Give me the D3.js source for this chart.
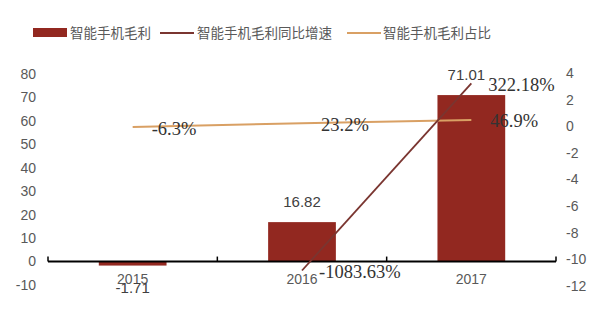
<!DOCTYPE html>
<html>
<head>
<meta charset="utf-8"/>
<script src="https://d3js.org/d3.v7.min.js"></script>
<style>
  body { margin: 0; background: #fff; }
</style>
</head>
<body>
<div id="chart"></div>
<script>
// data
var years = ["2015", "2016", "2017"];
var profit = [-1.71, 16.82, 71.01];           // 智能手机毛利
var growth = [null, -10.8363, 3.2218];        // 同比增速 (ratio)
var growthLabels = [null, "-1083.63%", "322.18%"];
var share = [-0.063, 0.232, 0.469];           // 占比 (ratio)
var shareLabels = ["-6.3%", "23.2%", "46.9%"];
var leftTicks = [-10, 0, 10, 20, 30, 40, 50, 60, 70, 80];
var rightTicks = [-12, -10, -8, -6, -4, -2, 0, 2, 4];

var W = 604, H = 310;
var barColor = "#922820", growthColor = "#7a3530", shareColor = "#d9a064";
var textGray = "#595959";

var svg = d3.select("#chart").append("svg")
    .attr("width", W).attr("height", H)
    .style("font-family", "'Liberation Sans', Arial, sans-serif");

var x = d3.scaleBand().domain(years).range([48, 556]).paddingInner(0).paddingOuter(0);
var yL = d3.scaleLinear().domain([-10, 80]).range([285, 74]);
var yR = d3.scaleLinear().domain([-12, 4]).range([286, 73]);
var cx = function(d) { return x(d) + x.bandwidth() / 2; };
var barW = x.bandwidth() * 0.4;

// left axis labels
svg.append("g").selectAll("text").data(leftTicks).enter().append("text")
    .attr("x", 36).attr("y", function(d) { return yL(d); })
    .attr("dy", "0.35em").attr("text-anchor", "end")
    .attr("fill", textGray).style("font-size", "14px")
    .text(function(d) { return d; });

// right axis labels
svg.append("g").selectAll("text").data(rightTicks).enter().append("text")
    .attr("x", 566).attr("y", function(d) { return yR(d); })
    .attr("dy", "0.35em").attr("text-anchor", "start")
    .attr("fill", textGray).style("font-size", "14px")
    .text(function(d) { return d; });

// bars
svg.append("g").selectAll("rect").data(profit).enter().append("rect")
    .attr("x", function(d, i) { return cx(years[i]) - barW / 2; })
    .attr("y", function(d) { return yL(Math.max(0, d)); })
    .attr("width", barW)
    .attr("height", function(d) { return Math.abs(yL(d) - yL(0)); })
    .attr("fill", barColor);

// category axis along zero
var y0 = yL(0);
var axis = svg.append("g");
axis.append("line").attr("x1", 48).attr("x2", 556).attr("y1", y0).attr("y2", y0)
    .attr("stroke", "#000").attr("stroke-width", 2);
var bounds = [48].concat(years.map(function(d) { return x(d) + x.bandwidth(); }));
axis.selectAll("line.tk").data(bounds).enter().append("line").attr("class", "tk")
    .attr("x1", function(d) { return d; }).attr("x2", function(d) { return d; })
    .attr("y1", y0).attr("y2", y0 - 5)
    .attr("stroke", "#000").attr("stroke-width", 1.5);
axis.selectAll("text").data(years).enter().append("text")
    .attr("x", function(d) { return cx(d); }).attr("y", 279)
    .attr("dy", "0.35em").attr("text-anchor", "middle")
    .attr("fill", textGray).style("font-size", "14px")
    .text(function(d) { return d; });

// share line
var shareLine = d3.line().x(function(d, i) { return cx(years[i]); }).y(function(d) { return yR(d); });
svg.append("path").datum(share).attr("d", shareLine)
    .attr("fill", "none").attr("stroke", shareColor).attr("stroke-width", 2);

// growth line (no 2015 value)
var gPts = growth.map(function(d, i) { return {i: i, v: d}; }).filter(function(p) { return p.v !== null; });
var growthLine = d3.line().x(function(p) { return cx(years[p.i]); }).y(function(p) { return yR(p.v); });
svg.append("path").datum(gPts).attr("d", growthLine)
    .attr("fill", "none").attr("stroke", growthColor).attr("stroke-width", 1.8);

// bar value labels
var barLabelPos = [{dx: 0, y: 288}, {dx: 0, y: null}, {dx: -5, y: null}];
svg.append("g").selectAll("text").data(profit).enter().append("text")
    .attr("x", function(d, i) { return cx(years[i]) + barLabelPos[i].dx; })
    .attr("y", function(d, i) { return barLabelPos[i].y !== null ? barLabelPos[i].y : yL(d) - 20; })
    .attr("dy", "0.35em").attr("text-anchor", "middle")
    .attr("fill", "#404040").style("font-size", "15px")
    .text(function(d) { return d.toFixed(2); });

// line value labels
var serif = "'Liberation Serif', 'Times New Roman', serif";
svg.append("g").selectAll("text").data(share).enter().append("text")
    .attr("x", function(d, i) { return cx(years[i]) + 19; })
    .attr("y", function(d) { return yR(d) + 1; })
    .attr("dy", "0.35em").attr("fill", "#333")
    .style("font-family", serif).style("font-size", "18.5px")
    .text(function(d, i) { return shareLabels[i]; });
svg.append("g").selectAll("text").data(gPts).enter().append("text")
    .attr("x", function(p) { return cx(years[p.i]) + 17; })
    .attr("y", function(p) { return yR(p.v) + 1; })
    .attr("dy", "0.35em").attr("fill", "#333")
    .style("font-family", serif).style("font-size", "18.5px")
    .text(function(p) { return growthLabels[p.i]; });

// legend
var cjk = "'Noto Sans CJK SC', sans-serif";
var leg = svg.append("g").style("font-family", cjk).style("font-size", "13.5px");
leg.append("rect").attr("x", 33).attr("y", 28).attr("width", 34).attr("height", 9).attr("fill", barColor);
leg.append("text").attr("x", 70).attr("y", 33).attr("dy", "0.35em").attr("fill", textGray).text("智能手机毛利");
leg.append("line").attr("x1", 160).attr("x2", 194).attr("y1", 33).attr("y2", 33).attr("stroke", growthColor).attr("stroke-width", 2);
leg.append("text").attr("x", 197).attr("y", 33).attr("dy", "0.35em").attr("fill", textGray).text("智能手机毛利同比增速");
leg.append("line").attr("x1", 347).attr("x2", 381).attr("y1", 33).attr("y2", 33).attr("stroke", shareColor).attr("stroke-width", 2);
leg.append("text").attr("x", 383).attr("y", 33).attr("dy", "0.35em").attr("fill", textGray).text("智能手机毛利占比");
</script>
</body>
</html>
